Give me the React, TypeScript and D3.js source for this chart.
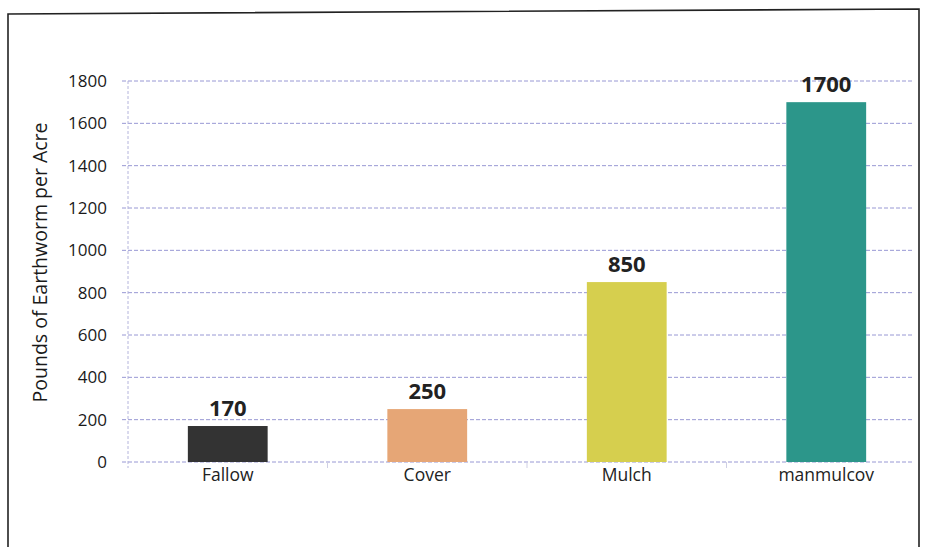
import React, { useEffect, useRef } from "react";
import * as d3 from "d3";

const categories = ["Fallow", "Cover", "Mulch", "manmulcov"];
const values = [170, 250, 850, 1700];
const barColors = ["#333333", "#e6a676", "#d6cf4e", "#2c968a"];
const yTicks = [0, 200, 400, 600, 800, 1000, 1200, 1400, 1600, 1800];
const yTitle = "Pounds of Earthworm per Acre";

const W = 930;
const H = 547;

export default function App() {
  const ref = useRef<SVGSVGElement>(null);

  useEffect(() => {
    const svg = d3.select(ref.current);
    svg.selectAll("*").remove();

    const font = "'Open Sans', 'Liberation Sans', sans-serif";
    const plotLeft = 128;
    const plotRight = 926;
    const gridRight = 913;
    const top = 81;
    const bottom = 462;

    const x = d3
      .scaleBand<string>()
      .domain(categories)
      .range([plotLeft, plotRight])
      .paddingInner(0.6)
      .paddingOuter(0.3);
    const y = d3.scaleLinear().domain([0, 1800]).range([bottom, top]);

    // frame
    svg
      .append("path")
      .attr("d", `M8,${H} L8,14 L919,9 L919,${H}`)
      .attr("fill", "none")
      .attr("stroke", "#222")
      .attr("stroke-width", 1.6);

    // gridlines
    svg
      .append("g")
      .selectAll("line")
      .data(yTicks)
      .join("line")
      .attr("x1", plotLeft - 6)
      .attr("x2", gridRight)
      .attr("y1", (d) => y(d))
      .attr("y2", (d) => y(d))
      .attr("stroke", "#9898d4")
      .attr("stroke-width", 1)
      .attr("stroke-dasharray", "4,2");

    // y axis line
    svg
      .append("line")
      .attr("x1", plotLeft)
      .attr("x2", plotLeft)
      .attr("y1", top)
      .attr("y2", bottom + 6)
      .attr("stroke", "#b4b4dc")
      .attr("stroke-dasharray", "3,2");

    // category separators below the axis
    svg
      .append("g")
      .selectAll("line")
      .data(categories.slice(1))
      .join("line")
      .attr("x1", (d) => (x(d) as number) - (x.step() * x.paddingInner()) / 2)
      .attr("x2", (d) => (x(d) as number) - (x.step() * x.paddingInner()) / 2)
      .attr("y1", bottom)
      .attr("y2", bottom + 6)
      .attr("stroke", "#cfcfe4");

    // y tick labels
    svg
      .append("g")
      .selectAll("text")
      .data(yTicks)
      .join("text")
      .attr("x", 107)
      .attr("y", (d) => y(d))
      .attr("dy", "0.35em")
      .attr("text-anchor", "end")
      .attr("font-family", font)
      .attr("font-size", 17)
      .attr("fill", "#1a1a1a")
      .text((d) => d);

    // y title
    svg
      .append("text")
      .attr("transform", `translate(47,${(top + bottom) / 2 - 9}) rotate(-90)`)
      .attr("text-anchor", "middle")
      .attr("font-family", font)
      .attr("font-size", 19.5)
      .attr("fill", "#1a1a1a")
      .text(yTitle);

    // bars
    svg
      .append("g")
      .selectAll("rect")
      .data(values)
      .join("rect")
      .attr("x", (_, i) => x(categories[i]) as number)
      .attr("width", x.bandwidth())
      .attr("y", (d) => y(d))
      .attr("height", (d) => bottom - y(d))
      .attr("fill", (_, i) => barColors[i]);

    // value labels
    svg
      .append("g")
      .selectAll("text")
      .data(values)
      .join("text")
      .attr("x", (_, i) => (x(categories[i]) as number) + x.bandwidth() / 2)
      .attr("y", (d) => y(d) - 10)
      .attr("text-anchor", "middle")
      .attr("font-family", font)
      .attr("font-size", 22)
      .attr("font-weight", "bold")
      .attr("fill", "#222")
      .text((d) => d);

    // category labels
    svg
      .append("g")
      .selectAll("text")
      .data(categories)
      .join("text")
      .attr("x", (d) => (x(d) as number) + x.bandwidth() / 2)
      .attr("y", bottom + 19)
      .attr("text-anchor", "middle")
      .attr("font-family", font)
      .attr("font-size", 17.5)
      .attr("fill", "#222")
      .text((d) => d);
  }, []);

  return (
    <svg
      ref={ref}
      width={W}
      height={H}
      style={{ position: "absolute", left: 0, top: 0, background: "#fff", display: "block" }}
    />
  );
}
